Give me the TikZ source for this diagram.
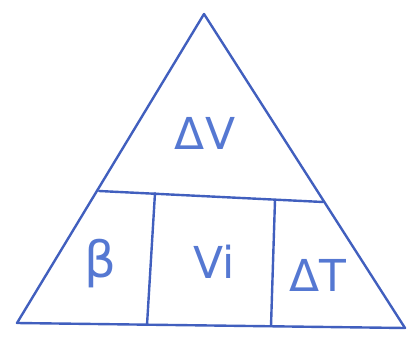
\documentclass[tikz,border=0pt]{standalone}
\usepackage{fontspec}
\setmainfont{DejaVu Sans}
\usepackage{tikz}
\usetikzlibrary{positioning,calc}
\definecolor{inkblue}{RGB}{65,95,190}
\definecolor{textblue}{RGB}{85,120,210}
\tikzset{
  inkline/.style={draw=inkblue,line width=2.4pt,line cap=round,line join=round},
  inklabel/.style={text=textblue,inner sep=0pt,font=\fontsize{44}{48}\selectfont},
}

\begin{document}
\begin{tikzpicture}[x=1pt,y=-1pt]
  \useasboundingbox (0,0) rectangle (414,337);
  % Corners of the triangle
  \coordinate (apex) at (204,14);
  \coordinate (botL) at (17,323);
  \coordinate (botR) at (405,328);
  \draw[inkline] (botL) -- (apex) -- (botR) -- cycle;

  % Divider under the top part
  \coordinate (divL) at (99,191);
  \coordinate (divR) at (323,202);
  \draw[inkline] (divL) -- (divR);

  % Upright walls
  \coordinate (wallAtop) at (155,193);
  \coordinate (wallAbot) at (147,325);
  \coordinate (wallBtop) at (275,200);
  \coordinate (wallBbot) at (271,326);
  \draw[inkline] (wallAtop) -- (wallAbot);
  \draw[inkline] (wallBtop) -- (wallBbot);

  % Labels
  \node[inklabel] (dV) at (205,133) {ΔV};
  \node[inklabel,font=\fontsize{50}{54}\selectfont] (beta) at (100,264) {β};
  \node[inklabel] (Vi) at (214,262) {Vi};
  \node[inklabel] (dT) at (318,275) {ΔT};
\end{tikzpicture}
\end{document}
